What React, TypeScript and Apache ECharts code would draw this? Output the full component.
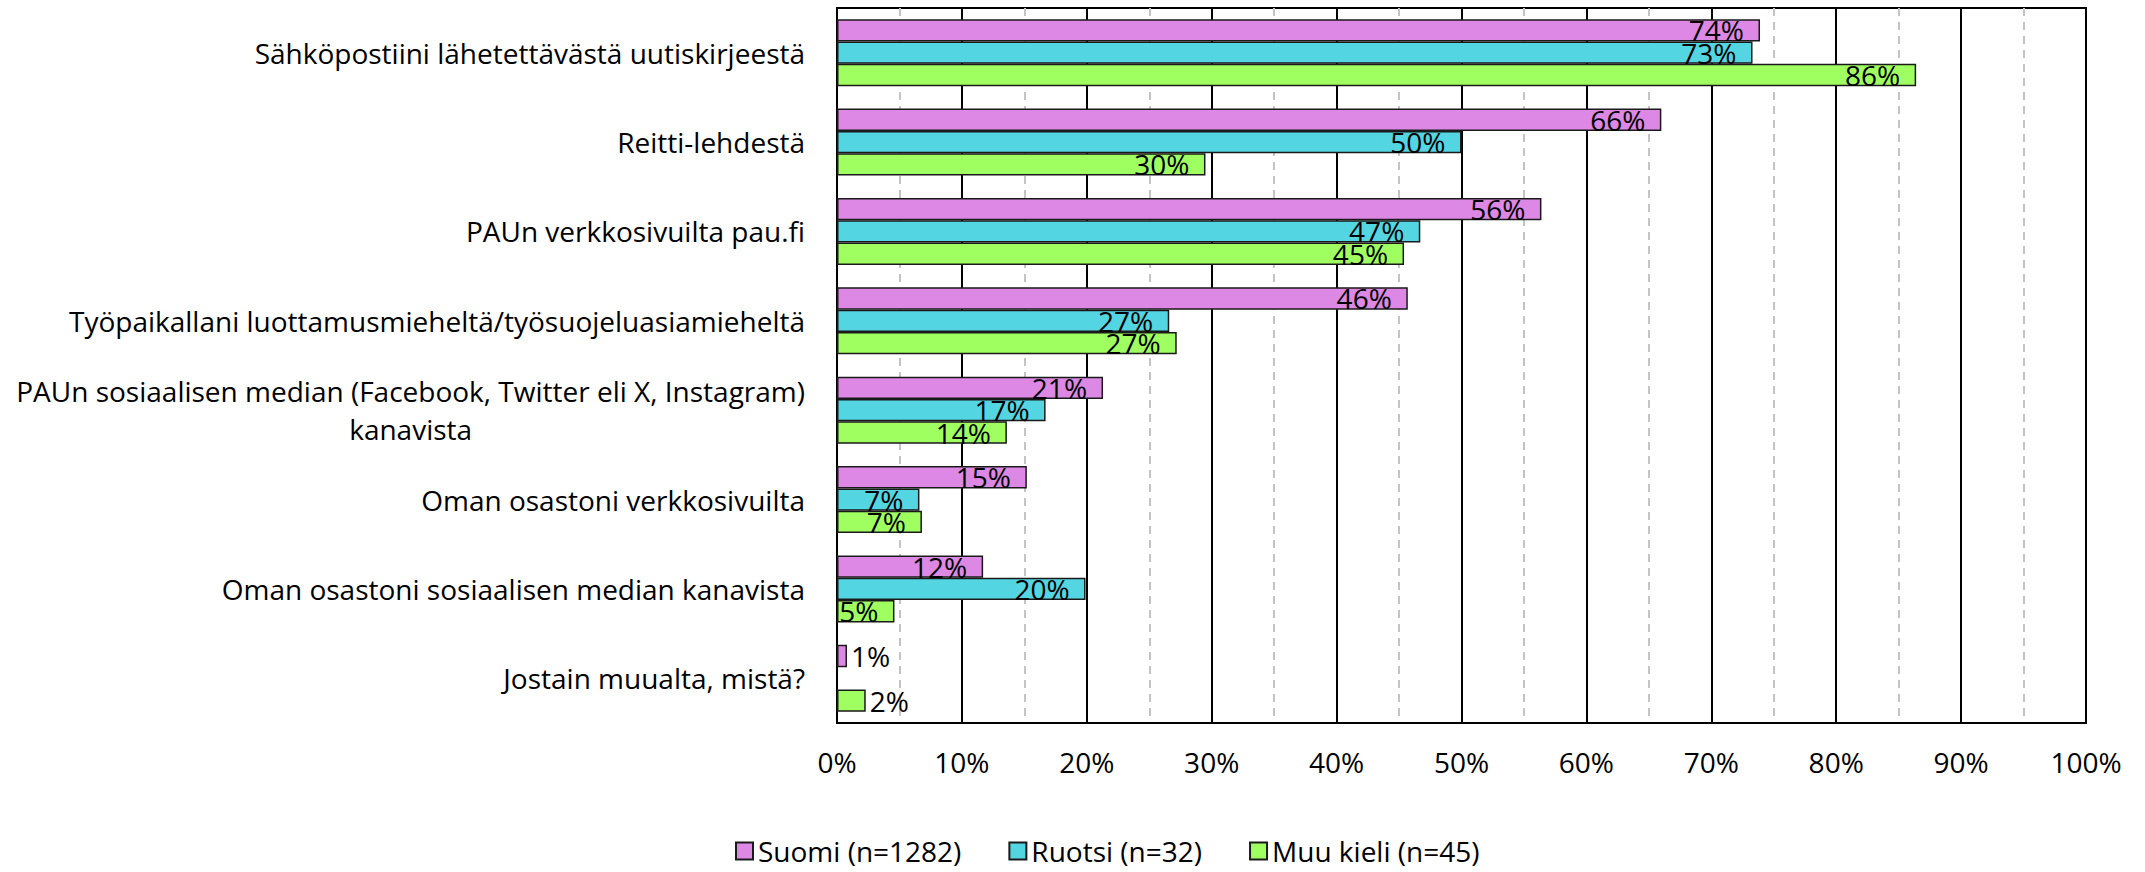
import React, { useEffect, useRef } from "react";
import * as echarts from "echarts";

const categories = [
  "Sähköpostiini lähetettävästä uutiskirjeestä",
  "Reitti-lehdestä",
  "PAUn verkkosivuilta pau.fi",
  "Työpaikallani luottamusmieheltä/työsuojeluasiamieheltä",
  "PAUn sosiaalisen median (Facebook, Twitter eli X, Instagram)\nkanavista",
  "Oman osastoni verkkosivuilta",
  "Oman osastoni sosiaalisen median kanavista",
  "Jostain muualta, mistä?",
];

const seriesNames = ["Suomi (n=1282)", "Ruotsi (n=32)", "Muu kieli (n=45)"];
const suomi = [73.9, 66.0, 56.4, 45.7, 21.3, 15.2, 11.7, 0.8];
const ruotsi = [73.3, 50.0, 46.7, 26.6, 16.7, 6.6, 19.9, null];
const muuKieli = [86.4, 29.5, 45.4, 27.2, 13.6, 6.8, 4.6, 2.3];
const xTicks = { min: 0, max: 100, interval: 10 };

const colors = ["#DC88E4", "#53D5E2", "#A0FF60"];
const FONT = "'Open Sans', sans-serif";

export default function App() {
  const ref = useRef<HTMLDivElement>(null);

  useEffect(() => {
    if (!ref.current) return;
    const chart = echarts.init(ref.current, null, { renderer: "svg" });
    const values = [suomi, ruotsi, muuKieli];

    const series = values.map((arr, i) => ({
      name: seriesNames[i],
      type: "bar",
      barGap: "0%",
      barCategoryGap: "25%",
      itemStyle: { color: colors[i], borderColor: "#1a1a1a", borderWidth: 1.5 },
      label: {
        show: true,
        position: "insideRight",
        distance: 16,
        color: "#000",
        fontSize: 28,
        fontFamily: FONT,
        formatter: (p: any) => (p.value == null ? "" : Math.round(p.value) + "%"),
      },
      data: arr.map((v) =>
        v == null
          ? null
          : v < 3
          ? { value: v, label: { position: "right", distance: 4 } }
          : { value: v }
      ),
    }));

    chart.setOption({
      animation: false,
      backgroundColor: "#fff",
      textStyle: { fontFamily: FONT },
      grid: {
        left: 837,
        top: 8,
        width: 1249,
        height: 715,
        show: true,
        borderColor: "#000",
        borderWidth: 2,
        containLabel: false,
      },
      legend: {
        data: seriesNames,
        left: 730,
        top: 832,
        icon: "rect",
        itemWidth: 17,
        itemHeight: 17,
        itemGap: 47,
        textStyle: {
          fontSize: 28,
          color: "#000",
          fontFamily: FONT,
        },
      },
      xAxis: {
        type: "value",
        min: xTicks.min,
        max: xTicks.max,
        interval: xTicks.interval,
        axisLine: { show: true, lineStyle: { color: "#000", width: 2 } },
        axisTick: { show: false },
        axisLabel: {
          formatter: "{value}%",
          fontSize: 28,
          color: "#000",
          fontFamily: FONT,
          margin: 25,
        },
        splitLine: { show: true, lineStyle: { color: "#000", width: 2 } },
        minorTick: { show: false, splitNumber: 2 },
        minorSplitLine: {
          show: true,
          lineStyle: { color: "#c4c4c4", width: 2, type: [8, 6] },
        },
      },
      yAxis: {
        type: "category",
        inverse: true,
        data: categories,
        axisLine: { show: true, lineStyle: { color: "#000", width: 2 } },
        axisTick: { show: false },
        axisLabel: {
          margin: 32,
          color: "#000",
          fontSize: 28,
          fontFamily: FONT,
          lineHeight: 38,
          formatter: (v: string) =>
            v
              .split("\n")
              .map((l) => `{c|${l}}`)
              .join("\n"),
          rich: {
            c: {
              align: "center",
              fontSize: 28,
              lineHeight: 38,
              color: "#000",
              fontFamily: FONT,
            },
          },
        },
      },
      series,
    });

    return () => chart.dispose();
  }, []);

  return (
    <div
      ref={ref}
      style={{ position: "absolute", left: 0, top: 0, width: 2145, height: 872 }}
    />
  );
}
